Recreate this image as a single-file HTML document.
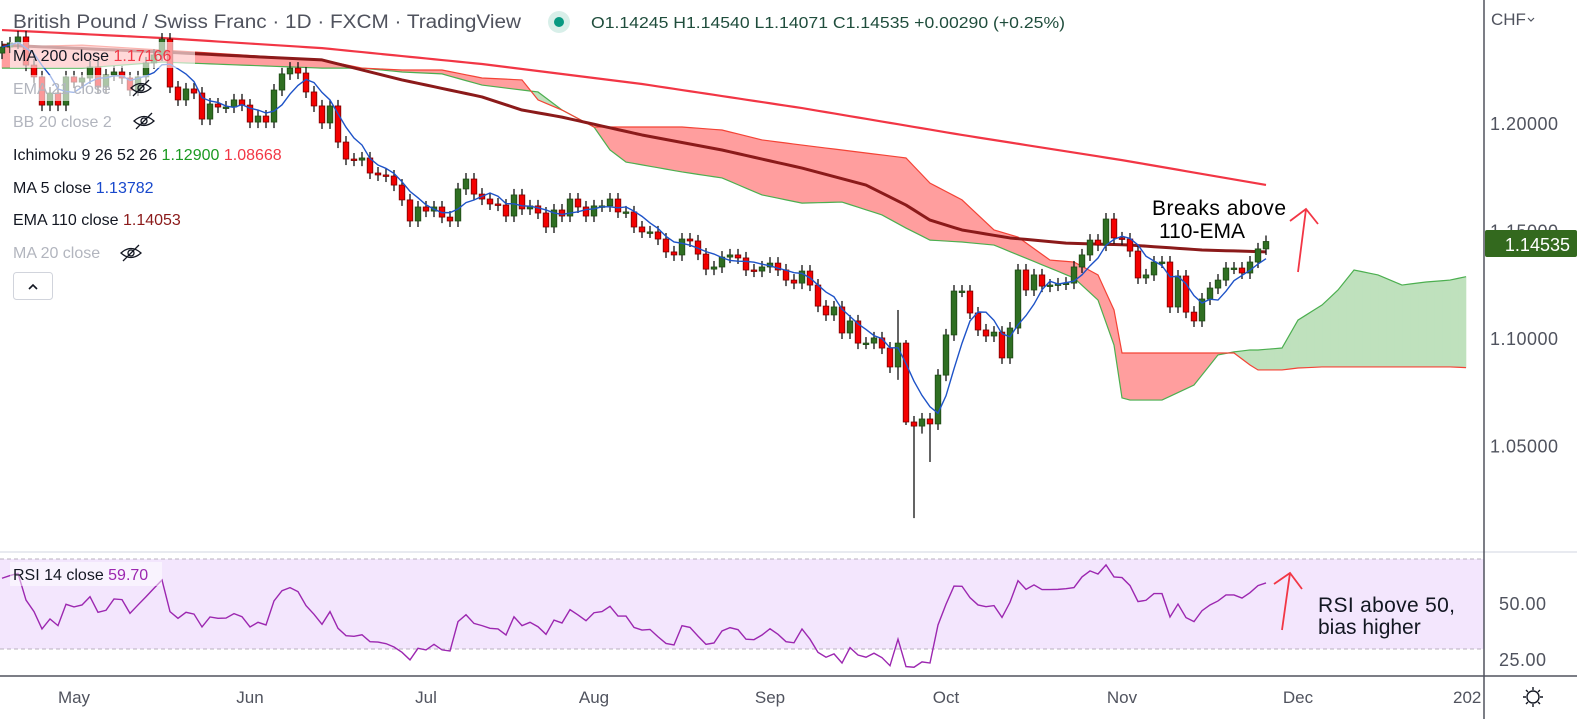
<!DOCTYPE html>
<html><head><meta charset="utf-8"><style>
html,body{margin:0;padding:0;background:#fff;}
svg{display:block;font-family:"Liberation Sans",sans-serif;}
</style></head><body>
<svg id="chart" width="1577" height="719" viewBox="0 0 1577 719" xmlns="http://www.w3.org/2000/svg">
<defs>
<clipPath id="mainClip"><rect x="0" y="0" width="1484" height="551"/></clipPath>
<clipPath id="rsiClip"><rect x="0" y="553" width="1484" height="122"/></clipPath>
</defs>
<rect x="0" y="0" width="1577" height="719" fill="#fff"/>
<g id="cloud" clip-path="url(#mainClip)"></g>
<g id="lines" clip-path="url(#mainClip)"></g>
<g id="candles" clip-path="url(#mainClip)"></g>
<g id="ma5g" clip-path="url(#mainClip)"></g>

<!-- RSI pane -->
<line x1="0" y1="552" x2="1577" y2="552" stroke="#e0e3eb" stroke-width="1.5"/>
<rect x="0" y="559" width="1484" height="90" fill="#f3e6fd"/>
<line x1="0" y1="559" x2="1484" y2="559" stroke="#b8b0bf" stroke-dasharray="4,3"/>
<line x1="0" y1="649" x2="1484" y2="649" stroke="#b8b0bf" stroke-dasharray="4,3"/>
<g id="rsig" clip-path="url(#rsiClip)"></g>

<!-- axes -->
<line x1="0" y1="676" x2="1577" y2="676" stroke="#50535e" stroke-width="1.5"/>
<line x1="1484" y1="0" x2="1484" y2="719" stroke="#50535e" stroke-width="1.5"/>
<g id="yticks" font-size="18" fill="#50535e"></g>
<g id="xticks" font-size="17" fill="#50535e"></g>
<text x="1491" y="25" font-size="17" fill="#50535e">CHF</text>
<path d="M1528 18 l3 3 l3 -3" fill="none" stroke="#50535e" stroke-width="1.2"/>
<rect x="1485" y="230" width="92" height="27" rx="2" fill="#33691e"/>
<text x="1570" y="251" text-anchor="end" font-size="18" fill="#fff">1.14535</text>
<text x="1499" y="610" font-size="18" fill="#50535e" textLength="47">50.00</text>
<text x="1499" y="666" font-size="18" fill="#50535e" textLength="47">25.00</text>
<g stroke="#131722" stroke-width="1.4" fill="none">
<circle cx="1533" cy="697" r="6"/>
<path d="M1533 687v3M1533 704v3M1523 697h3M1540 697h3M1526 690l2 2M1538 702l2 2M1540 690l-2 2M1526 704l2 -2"/>
</g>

<!-- header -->
<text x="13" y="28" font-size="19" fill="#50535e" textLength="508" lengthAdjust="spacingAndGlyphs">British Pound / Swiss Franc · 1D · FXCM · TradingView</text>
<circle cx="559" cy="22" r="11" fill="#d8efe9"/>
<circle cx="559" cy="22" r="5" fill="#089981"/>
<text x="591" y="28" font-size="16" fill="#1f4d3c" textLength="474" lengthAdjust="spacingAndGlyphs">O1.14245 H1.14540 L1.14071 C1.14535 +0.00290 (+0.25%)</text>

<!-- legend -->
<rect x="10" y="42" width="185" height="26" fill="#fff" fill-opacity="0.6"/>
<rect x="10" y="75" width="150" height="26" fill="#fff" fill-opacity="0.6"/>
<g font-size="16">
<text x="13" y="61" fill="#131722">MA 200 close <tspan fill="#f23645">1.17166</tspan></text>
<text x="13" y="94" fill="#b2b5be">EMA 21 close</text>
<text x="13" y="127" fill="#b2b5be">BB 20 close 2</text>
<text x="13" y="160" fill="#131722">Ichimoku 9 26 52 26 <tspan fill="#1b9a22">1.12900</tspan> <tspan fill="#f23645">1.08668</tspan></text>
<text x="13" y="193" fill="#131722">MA 5 close <tspan fill="#1848cc">1.13782</tspan></text>
<text x="13" y="225" fill="#131722">EMA 110 close <tspan fill="#8b1a1a">1.14053</tspan></text>
<text x="13" y="258" fill="#b2b5be">MA 20 close</text>
</g>
<g fill="none" stroke="#131722" stroke-width="1.3">
<g><path d="M131 88 q10 -9 20 0 q-10 9 -20 0z"/><circle cx="141" cy="88" r="3"/><path d="M133 96 l16 -16"/></g>
<g><path d="M134 121 q10 -9 20 0 q-10 9 -20 0z"/><circle cx="144" cy="121" r="3"/><path d="M136 129 l16 -16"/></g>
<g><path d="M121 253 q10 -9 20 0 q-10 9 -20 0z"/><circle cx="131" cy="253" r="3"/><path d="M123 261 l16 -16"/></g>
</g>
<rect x="13.5" y="272.5" width="39" height="27" rx="3" fill="#fff" stroke="#d1d4dc"/>
<path d="M29 289 l4 -4 l4 4" fill="none" stroke="#131722" stroke-width="1.6"/>

<!-- annotations -->
<text x="1152" y="215" font-size="21" fill="#000" textLength="134">Breaks above</text>
<text x="1159" y="238" font-size="21" fill="#000">110-EMA</text>
<path d="M1298 272 L1306 209 M1290 221 L1306 209 L1318 224" fill="none" stroke="#f23645" stroke-width="1.8"/>
<text x="1318" y="612" font-size="21" fill="#131722" textLength="137">RSI above 50,</text>
<text x="1318" y="634" font-size="21" fill="#131722">bias higher</text>
<path d="M1282 630 L1290 573 M1274 584 L1290 573 L1302 589" fill="none" stroke="#f23645" stroke-width="1.8"/>
<rect x="10" y="562" width="152" height="24" fill="#fff" fill-opacity="0.5"/>
<text x="13" y="580" font-size="16" fill="#131722">RSI 14 close <tspan fill="#9c27b0">59.70</tspan></text>
</svg>
<script>
const closes = [1.2358,1.2377,1.2405,1.2274,1.2219,1.2088,1.2144,1.2088,1.2219,1.2195,1.2214,1.2265,1.2172,1.2228,1.2242,1.2214,1.2158,1.2219,1.2284,1.2321,1.2395,1.2172,1.2112,1.2163,1.2144,1.2023,1.2093,1.2079,1.2079,1.2112,1.2088,1.2009,1.2037,1.2009,1.2158,1.2233,1.2260,1.2237,1.2149,1.2084,1.2005,1.2084,1.1916,1.1837,1.1832,1.1842,1.1772,1.1763,1.1758,1.1716,1.1647,
1.1549,1.1614,1.1595,1.1614,1.1567,1.1549,1.1698,1.1744,1.1674,1.1651,1.1628,1.1623,1.1572,1.1670,1.1605,1.1619,1.1586,1.1521,1.1600,1.1572,1.1651,1.1614,1.1572,1.1619,1.1619,1.1651,1.1591,1.1591,1.1521,1.1498,1.1498,1.1465,1.1405,1.1391,1.1465,1.1456,1.1395,1.1325,1.1335,1.1381,1.1391,1.1377,1.1321,1.1316,1.1335,1.1353,1.1321,1.1274,1.1260,1.1316,1.1251,1.1153,1.1112,1.1149,1.1028,1.1084,1.0981,1.0981,1.1005,1.0958,1.0870,1.0981,
1.0614,1.0595,1.0628,1.0605,1.0832,1.1019,1.1223,1.1223,1.1121,1.1042,1.1014,1.1032,1.0912,1.1051,1.1321,1.1228,1.1298,1.1246,1.1251,1.1256,1.1260,1.1335,1.1391,1.1460,1.1437,1.1558,1.1470,1.1465,1.1409,1.1284,1.1298,1.1358,1.1358,1.1149,1.1293,1.1125,1.1084,1.1186,1.1237,1.1274,1.1330,1.1330,1.1307,1.1358,1.1419,1.14535];
const firstOpen = 1.2330;
const specialHighs = {112:1.1135, 113:1.0995};
const specialLows = {112:1.0810, 114:1.0167, 115:1.0560, 116:1.0428, 113:1.0600};
const rsiValues = [61.8,63.0,64.0,52.0,46.8,39.0,43.5,40.5,50.1,48.9,49.8,53.5,46.5,47.4,52.5,52.2,46.0,49.8,53.5,57.3,61.0,46.8,43.8,46.5,45.7,39.9,44.4,43.8,43.9,45.9,44.5,39.9,42.0,40.8,51.6,56.2,57.6,55.8,49.5,45.6,41.1,46.8,39.3,36.0,35.7,36.4,33.3,33.1,32.4,30.9,28.5,25.1,30.3,29.6,32.1,29.6,29.1,42.3,45.4,41.5,40.5,39.3,39.0,36.3,44.5,40.5,42.0,40.0,36.6,43.0,41.7,47.7,45.3,42.7,46.3,46.8,49.2,44.8,44.8,39.7,
38.5,38.8,35.5,32.5,31.8,40.5,39.7,35.8,32.1,32.7,38.1,39.6,38.7,34.4,34.2,36.3,39.1,36.6,33.3,32.8,39.0,34.4,28.5,26.3,27.8,23.7,30.6,27.3,26.3,28.1,26.1,22.5,34.4,22.1,21.8,24.2,23.7,40.8,50.1,58.3,58.2,53.1,49.8,49.0,49.5,44.2,51.0,60.7,56.8,58.8,56.7,56.7,56.8,57.1,57.6,62.4,65.1,63.7,67.8,62.4,62.1,58.5,51.3,51.9,54.9,54.9,44.4,50.2,44.1,42.3,47.2,49.8,51.6,54.3,54.3,52.9,55.3,58.5,59.7];
const ma200Idx = [0,20,40,60,80,100,120,140,158];
const ma200Vals = [1.2437,1.2400,1.2353,1.2279,1.2186,1.2074,1.1949,1.1832,1.17166];
const ema110Idx = [0,20,30,40,50,60,65,70,80,90,100,108,113,116,120,126,133,141,150,158];
const ema110Vals = [1.2367,1.2335,1.2316,1.2298,1.2205,1.2126,1.2065,1.2032,1.1949,1.1879,1.1795,1.1716,1.1623,1.1553,1.1507,1.1470,1.1446,1.1437,1.1414,1.14053];
const cloudIdx = [0,10,20,30,40,45,50,55,60,65,67,70,74,76,78,85,90,95,100,105,110,113,116,120,124,127,131,134,137,139,140,141,145,149,152,154,156,157,160,162,165,167,169,172,175,178,181,183];
const spanA = [1.2260,1.2260,1.2288,1.2274,1.2260,1.2260,1.2242,1.2233,1.2181,1.2158,1.2149,1.2065,1.1986,1.1879,1.1823,1.1777,1.1749,1.1670,1.1632,1.1637,1.1577,1.1516,1.1460,1.1451,1.1437,1.1391,1.1330,1.1284,1.1181,1.0972,1.0726,1.0716,1.0716,1.0786,1.0926,1.0940,1.0949,1.0949,1.0958,1.1088,1.1158,1.1228,1.1321,1.1298,1.1251,1.1265,1.1274,1.1290];
const spanB = [1.2358,1.2367,1.2344,1.2321,1.2298,1.2260,1.2251,1.2251,1.2214,1.2205,1.2112,1.2065,1.1986,1.1986,1.1986,1.1986,1.1972,1.1926,1.1902,1.1879,1.1856,1.1842,1.1725,1.1647,1.1507,1.1474,1.1367,1.1358,1.1298,1.1135,1.0935,1.0935,1.0935,1.0935,1.0935,1.0935,1.0879,1.0856,1.0856,1.0865,1.0870,1.0870,1.0870,1.0870,1.0870,1.0870,1.0870,1.0867];
const priceTicks = [1.20000,1.15000,1.10000,1.05000];
const monthLabels = ["May","Jun","Jul","Aug","Sep","Oct","Nov","Dec","202"];
const monthBarIdx = [9,31,53,74,96,118,140,162,182];

const NS = "http://www.w3.org/2000/svg";
const xOf = i => 2 + 8*i;
const yP = p => 124 + (1.2 - p)*2150;
const yR = v => 604.5 - (v-50)*2.225;
function mk(tag, attrs, parent){const e=document.createElementNS(NS,tag);for(const k in attrs)e.setAttribute(k,attrs[k]);parent.appendChild(e);return e;}
function interp(idx, vals, i){for(let k=0;k<idx.length-1;k++){if(i>=idx[k]&&i<=idx[k+1]){const t=(i-idx[k])/(idx[k+1]-idx[k]);return vals[k]+t*(vals[k+1]-vals[k]);}}return vals[vals.length-1];}

// cloud
const cloudG = document.getElementById('cloud');
const lastC = cloudIdx[cloudIdx.length-1];
for(let i=0;i<lastC;i++){
  const a0=interp(cloudIdx,spanA,i),a1=interp(cloudIdx,spanA,i+1),b0=interp(cloudIdx,spanB,i),b1=interp(cloudIdx,spanB,i+1);
  const green=(a0+a1)>(b0+b1);
  const poly=mk('polygon',{points:`${xOf(i)},${yP(a0)} ${xOf(i+1)},${yP(a1)} ${xOf(i+1)},${yP(b1)} ${xOf(i)},${yP(b0)}`,fill:green?'#bfe1bd':'#ff9e9e',stroke:green?'#bfe1bd':'#ff9e9e','stroke-width':0.6},cloudG);
  
  
}
let pa='',pb='';
for(let i=0;i<=lastC;i++){pa+=`${xOf(i)},${yP(interp(cloudIdx,spanA,i))} `;pb+=`${xOf(i)},${yP(interp(cloudIdx,spanB,i))} `;}
const la=mk('polyline',{points:pa,fill:'none',stroke:'#4caf50','stroke-width':1.2},cloudG);


const lb=mk('polyline',{points:pb,fill:'none',stroke:'#f44336','stroke-width':1.2},cloudG);



// MAs
const linesG=document.getElementById('lines');
let p200='';for(let i=0;i<=158;i++)p200+=`${xOf(i)},${yP(interp(ma200Idx,ma200Vals,i))} `;
const m200=mk('polyline',{points:p200,fill:'none',stroke:'#f23645','stroke-width':2.2},linesG);


let p110='';for(let i=0;i<=158;i++)p110+=`${xOf(i)},${yP(interp(ema110Idx,ema110Vals,i))} `;
const e110=mk('polyline',{points:p110,fill:'none',stroke:'#8b1a1a','stroke-width':3,'stroke-linejoin':'round'},linesG);



// candles
const cG=document.getElementById('candles');
for(let i=0;i<closes.length;i++){
  const o=i===0?firstOpen:closes[i-1], c=closes[i];
  const hi=specialHighs[i]!==undefined?specialHighs[i]:Math.max(o,c)+0.0028;
  const lo=specialLows[i]!==undefined?specialLows[i]:Math.min(o,c)-0.0028;
  const up=c>=o, x=xOf(i);
  const w=mk('line',{x1:x,x2:x,y1:yP(hi),y2:yP(lo),stroke:'#111','stroke-width':1.3},cG);
  
  
  const top=yP(Math.max(o,c)),h=Math.max(1.5,Math.abs(yP(o)-yP(c)));
  const b=mk('rect',{x:x-2.8,y:top,width:5.6,height:h,fill:up?'#2f6f22':'#f40000',stroke:up?'#1e4a14':'#7a0000','stroke-width':0.8},cG);
  
  
}

// MA5
let p5='';for(let i=0;i<closes.length;i++){const s=Math.max(0,i-4);let sum=0;for(let k=s;k<=i;k++)sum+=closes[k];p5+=`${xOf(i)},${yP(sum/(i-s+1))} `;}
const m5=mk('polyline',{points:p5,fill:'none',stroke:'#1e53c8','stroke-width':1.4},document.getElementById('ma5g'));



// RSI
let pr='';for(let i=0;i<rsiValues.length;i++)pr+=`${xOf(i)},${yR(rsiValues[i])} `;
const rl=mk('polyline',{points:pr,fill:'none',stroke:'#9c27b0','stroke-width':1.4},document.getElementById('rsig'));



// axes labels
const yt=document.getElementById('yticks');
priceTicks.forEach(p=>{const t=mk('text',{x:1490,y:yP(p)+6,textLength:68},yt);t.textContent=p.toFixed(5);
  
  });
const xt=document.getElementById('xticks');
monthLabels.forEach((m,k)=>{const t=mk('text',{x:xOf(monthBarIdx[k]),y:703,'text-anchor':k===monthLabels.length-1?'start':'middle'},xt);
  if(k===monthLabels.length-1)t.setAttribute('x',1453);
  t.textContent=m;
  
  });
</script>
</body></html>
